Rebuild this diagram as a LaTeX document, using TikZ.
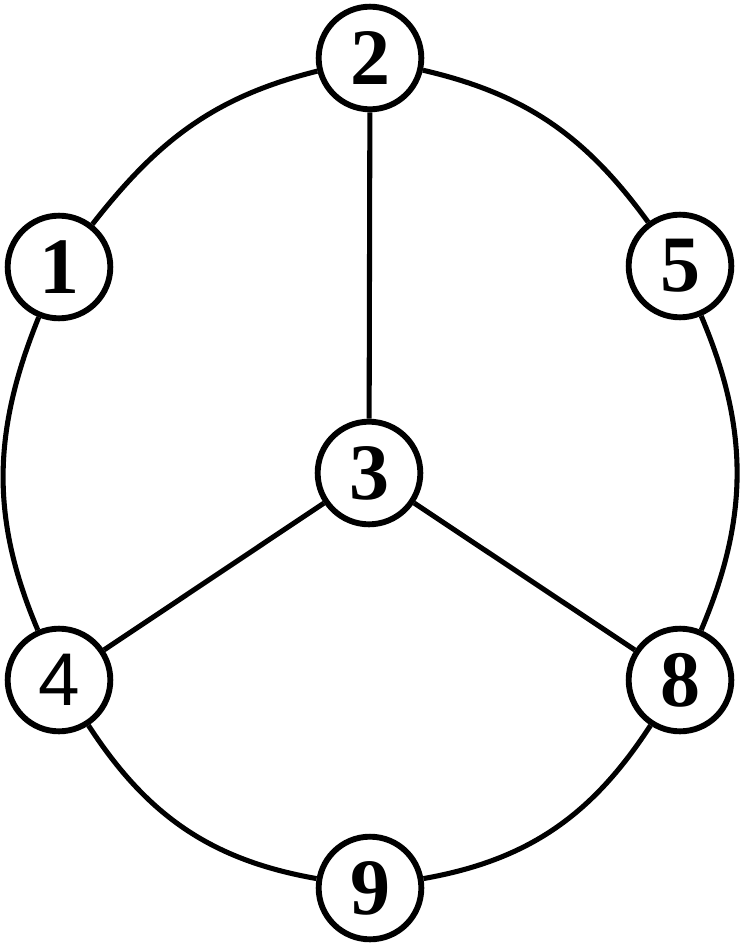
\documentclass[tikz,border=0pt]{standalone}
\usepackage{fontspec}
\setmainfont{Liberation Serif}
\newfontfamily\arialfont{Liberation Sans}
\begin{document}
\begin{tikzpicture}[x=0.75pt,y=-0.75pt,
  vertex/.style={circle,draw=black,fill=white,line width=4.4pt,minimum size=77pt,inner sep=0pt,
    font=\fontsize{60}{60}\selectfont\bfseries},
  link/.style={line width=3.8pt,black}]
\useasboundingbox (0,0) rectangle (741,945);
\node[vertex] (n2) at (370,58) {2};
\node[vertex] (n1) at (59,267) {1};
\node[vertex] (n5) at (680,266) {5};
\node[vertex] (n3) at (369,473) {3};
\node[vertex,font=\fontsize{56}{56}\selectfont\arialfont] (n4) at (59,680) {4};
\node[vertex] (n8) at (680,680) {8};
\node[vertex] (n9) at (370,888) {9};
\begin{scope}[link]
\draw (n2) to[out=194,in=52] (n1);
\draw (n1) to[out=248,in=113] (n4);
\draw (n4) to[out=303,in=170] (n9);
\draw (n9) to[out=10,in=237] (n8);
\draw (n8) to[out=67,in=293] (n5);
\draw (n5) to[out=126,in=347] (n2);
\draw (n2) -- (n3);
\draw (n3) -- (n4);
\draw (n3) -- (n8);
\end{scope}
\end{tikzpicture}
\end{document}
